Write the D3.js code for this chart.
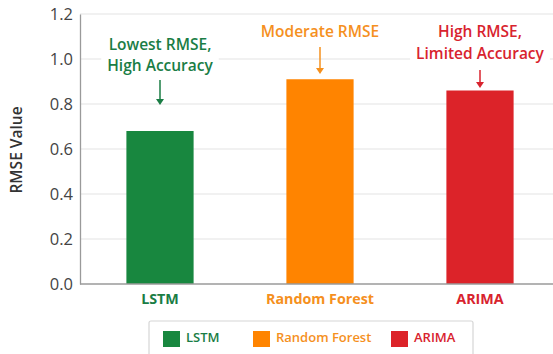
<!DOCTYPE html>
<html><head><meta charset="utf-8">
<script src="https://cdn.jsdelivr.net/npm/d3@7"></script>
<style>body{margin:0;background:#fff;font-family:"Open Sans",sans-serif;}</style>
</head><body>
<svg id="c" width="553" height="354"></svg>
<script>
const categories = ["LSTM", "Random Forest", "ARIMA"];
const rmseValues = [0.68, 0.91, 0.86];
const colors = ["#18873f", "#ff8400", "#dc2329"];
const textColors = ["#1a7d45", "#f5901e", "#d8232e"];
const yTicks = [0, 0.2, 0.4, 0.6, 0.8, 1.0, 1.2];
const annotations = [["Lowest RMSE,", "High Accuracy"], ["Moderate RMSE"], ["High RMSE,", "Limited Accuracy"]];

const svg = d3.select("#c");
const mLeft = 80, mRight = 560, mTop = 14, mBottom = 284;
const x = d3.scaleBand().domain(categories).range([mLeft, mRight]).paddingInner(0.58).paddingOuter(0.29);
const y = d3.scaleLinear().domain([0, 1.2]).range([mBottom, mTop]);

// gridlines
svg.append("g").selectAll("line").data(yTicks.slice(1)).join("line")
  .attr("x1", mLeft).attr("x2", 553).attr("y1", d => y(d)).attr("y2", d => y(d))
  .attr("stroke", "#e3e3e3").attr("stroke-width", 1.2);

// y axis
const ya = svg.append("g").attr("transform", `translate(${mLeft},0)`)
  .call(d3.axisLeft(y).tickValues(yTicks).tickFormat(d3.format(".1f")).tickSize(0).tickPadding(7));
ya.select(".domain").attr("stroke", "#9a9a9a").attr("stroke-width", 1.3);
ya.selectAll("text").attr("font-size", 16.5).attr("fill", "#444").attr("font-family", "Open Sans");

// bars
svg.append("g").selectAll("rect").data(categories).join("rect")
  .attr("x", d => x(d)).attr("width", x.bandwidth())
  .attr("y", (d, i) => y(rmseValues[i])).attr("height", (d, i) => y(0) - y(rmseValues[i]))
  .attr("fill", (d, i) => colors[i]);

// x axis line
svg.append("line").attr("x1", mLeft).attr("x2", 553).attr("y1", y(0)).attr("y2", y(0))
  .attr("stroke", "#9a9a9a").attr("stroke-width", 1.3);

// category labels
svg.append("g").selectAll("text").data(categories).join("text")
  .attr("x", d => x(d) + x.bandwidth() / 2).attr("y", 304)
  .attr("text-anchor", "middle").attr("font-size", 14.3).attr("font-weight", 700)
  .attr("fill", (d, i) => textColors[i]).text(d => d);

// y title
svg.append("text").attr("transform", "translate(22,150) rotate(-90)")
  .attr("text-anchor", "middle").attr("font-size", 15.5).attr("font-weight", 600)
  .attr("fill", "#333").text("RMSE Value");

// annotations
const annoLayout = [
  {lines: [46, 67], arrow: [80, 105]},
  {lines: [33], arrow: [47, 74]},
  {lines: [33, 55], arrow: [70, 88]}
];
categories.forEach((cat, i) => {
  const cx = x(cat) + x.bandwidth() / 2;
  const g = svg.append("g");
  const texts = annotations[i].map((t, j) => g.append("text").attr("x", cx).attr("y", annoLayout[i].lines[j])
    .attr("text-anchor", "middle").attr("dominant-baseline", "middle")
    .attr("font-size", 15.5).attr("font-weight", 600).attr("fill", textColors[i]).text(t));
  let maxW = 0; texts.forEach(t => maxW = Math.max(maxW, t.node().getComputedTextLength()));
  const l = annoLayout[i].lines;
  g.insert("rect", "text").attr("x", cx - maxW / 2 - 6).attr("width", maxW + 12)
    .attr("y", l[0] - 11).attr("height", l[l.length - 1] - l[0] + 22).attr("fill", "#fff");
  const a = annoLayout[i].arrow;
  svg.append("line").attr("x1", cx).attr("x2", cx).attr("y1", a[0]).attr("y2", a[1] - 3)
    .attr("stroke", textColors[i]).attr("stroke-width", 1.5);
  svg.append("path").attr("d", `M${cx - 4},${a[1] - 6} L${cx + 4},${a[1] - 6} L${cx},${a[1]} Z`)
    .attr("fill", textColors[i]);
});

// legend
const lg = svg.append("g");
lg.append("rect").attr("x", 149).attr("y", 321).attr("width", 324).attr("height", 40).attr("rx", 2)
  .attr("fill", "#fff").attr("stroke", "#d6d6d6").attr("stroke-width", 1.2);
const legX = [163, 253, 391];
categories.forEach((cat, i) => {
  lg.append("rect").attr("x", legX[i]).attr("y", 331).attr("width", 17).attr("height", 16).attr("fill", colors[i]);
  lg.append("text").attr("x", legX[i] + 23).attr("y", 339).attr("dominant-baseline", "middle")
    .attr("font-size", 13).attr("font-weight", 600).attr("fill", textColors[i]).text(cat);
});
</script>
</body></html>
